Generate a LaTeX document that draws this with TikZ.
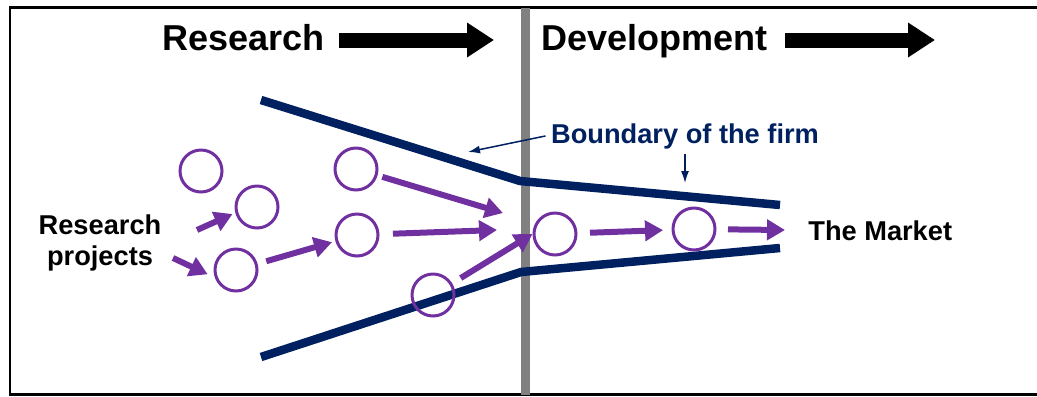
\documentclass[tikz,border=0pt]{standalone}
\usepackage{fontspec}
\setmainfont{Liberation Sans}
\usetikzlibrary{arrows.meta}

\definecolor{firmnavy}{RGB}{0,32,96}
\definecolor{projpurple}{RGB}{112,48,160}
\definecolor{divgray}{RGB}{128,128,128}

\tikzset{
  project/.style={circle,draw=projpurple,line width=0.06cm,minimum size=0.84cm,inner sep=0pt},
  flow/.style={projpurple,line width=0.12cm,-{Triangle[length=0.36cm,width=0.4cm]},
    shorten <=0.2cm,shorten >=0.1cm},
  boundary/.style={firmnavy,line width=0.17cm,line join=round},
  callout/.style={firmnavy,line width=0.03cm,-{Latex[length=0.24cm,width=0.16cm]}},
  stage/.style={anchor=base west,inner sep=0pt,font=\fontsize{20.5}{24}\selectfont\bfseries},
  stagearrow/.style={line width=0.3cm,-{Triangle[length=0.54cm,width=0.66cm]}},
  tag/.style={font=\fontsize{15.5}{18}\selectfont\bfseries}
}

\begin{document}
\begin{tikzpicture}[x=0.02cm,y=-0.02cm]
\useasboundingbox (0,0) rectangle (1037,396);

% frame and the research/development divide
\draw[line width=0.06cm] (1037,7.5) -- (10,7.5) -- (10,394.5) -- (1037,394.5);
\draw[divgray,line width=0.18cm] (525,7.5) -- (525,394.5);

\node[stage] (res) at (162,50) {Research};
\node[stage] (dev) at (541,50) {Development};
\draw[stagearrow] (339,40) -- (494,40);
\draw[stagearrow] (785,40) -- (935,40);

% funnel
\draw[boundary] (261,100) -- (520,181) -- (780,205);
\draw[boundary] (261,357) -- (521,272) -- (780,248);

\node[tag,firmnavy,anchor=base,inner sep=3pt] (bnd) at (685,143) {Boundary of the firm};
\coordinate (hitup) at (468,152);
\coordinate (hitmid) at (685,183);
\draw[callout] (bnd.west) -- (hitup);
\draw[callout] (bnd.south) -- (hitmid);

\node[tag,align=center] (rp) at (100,243) {Research\\projects};
\node[tag,anchor=base west,inner sep=0pt] (mkt) at (808,240) {The Market};

% projects
\node[project] (p1) at (201,171) {};
\node[project] (p2) at (257,207) {};
\node[project] (p3) at (236,270) {};
\node[project] (p4) at (356,169) {};
\node[project] (p5) at (357,235) {};
\node[project] (p6) at (433,295) {};
\node[project] (p7) at (555,234) {};
\node[project] (p8) at (694,229) {};

\coordinate (in1) at (197,230);
\coordinate (in2) at (173,258);
\coordinate (out4) at (503,213);
\coordinate (out5) at (497,230);

\draw[flow,shorten <=0pt,shorten >=0.06cm] (in1) -- (p2.195);
\draw[flow,shorten <=0pt,shorten >=0.16cm] (in2) -- (p3.200);
\draw[flow,shorten <=0.18cm,shorten >=0.07cm] (p3) -- (p5);
\draw[flow,shorten <=0.1cm,shorten >=0pt] (p4) -- (out4);
\draw[flow,shorten <=0.27cm,shorten >=0pt] (p5) -- (out5);
\draw[flow,shorten >=0pt] (p6) -- (p7.west);
\draw[flow,shorten <=0.25cm,shorten >=0.17cm] (p7) -- (p8);
\draw[flow,shorten <=0.23cm,shorten >=0.46cm] (p8) -- (mkt.west);
\end{tikzpicture}
\end{document}
